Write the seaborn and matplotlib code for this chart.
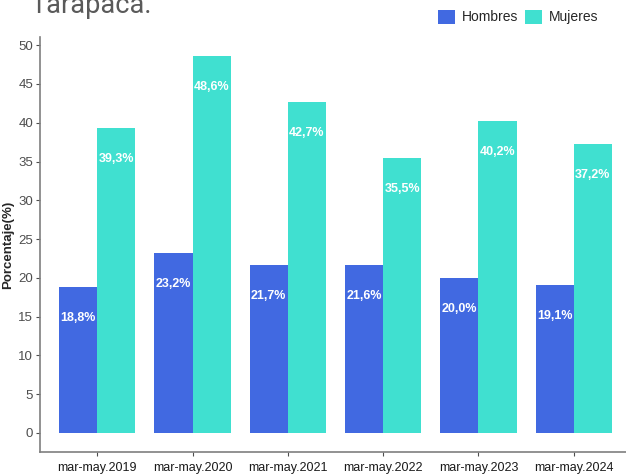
import matplotlib
matplotlib.use("Agg")
import matplotlib.pyplot as plt
import seaborn as sns
import pandas as pd
from matplotlib.patches import Patch

periodos = ["mar-may.2019", "mar-may.2020", "mar-may.2021", "mar-may.2022", "mar-may.2023", "mar-may.2024"]
hombres = [18.8, 23.2, 21.7, 21.6, 20.0, 19.1]
mujeres = [39.3, 48.6, 42.7, 35.5, 40.2, 37.2]
sexos = ["Hombres", "Mujeres"]
colores = ["#4169E1", "#40E0D0"]
yticks = [0, 5, 10, 15, 20, 25, 30, 35, 40, 45, 50]

df = pd.DataFrame({
    "periodo": periodos * 2,
    "valor": hombres + mujeres,
    "sexo": [sexos[0]] * len(periodos) + [sexos[1]] * len(periodos),
})

sns.set_style("white")
plt.rcParams["font.family"] = ["Liberation Sans", "DejaVu Sans"]

fig = plt.figure(figsize=(6.26, 4.75), dpi=100)
ax = fig.add_axes([40 / 626, 23 / 475, 591 / 626, 415 / 475])

sns.barplot(data=df, x="periodo", y="valor", hue="sexo", palette=colores,
            width=0.8, dodge=True, ax=ax, legend=False, saturation=1,
            edgecolor="none", linewidth=0)

for cont in ax.containers:
    for bar in cont:
        h = bar.get_height()
        ax.text(bar.get_x() + bar.get_width() / 2, h - 4.0,
                f"{h:.1f}%".replace(".", ","), ha="center", va="center",
                color="white", fontsize=9, fontweight="bold")

ax.set_xlim(-0.6, len(periodos) - 1 + 0.6)
ax.set_ylim(-2.45, 51.05)
ax.set_yticks(yticks)
ax.set_yticklabels([str(v) for v in yticks], fontsize=9.5, color="#4d4d4d")
ax.tick_params(axis="x", labelsize=9, labelcolor="#1a1a1a", pad=4)
ax.tick_params(axis="both", length=3, color="#4d4d4d", direction="out", width=0.8)
ax.tick_params(axis="x", bottom=True)
ax.tick_params(axis="y", left=True, pad=2)
ax.set_xlabel("")
ax.set_ylabel("Porcentaje(%)", fontsize=9.5, fontweight="bold", labelpad=3)
for s in ["top", "right"]:
    ax.spines[s].set_visible(False)
for s in ["left", "bottom"]:
    ax.spines[s].set_color("#7f7f7f")
    ax.spines[s].set_linewidth(1.2)

handles = [Patch(facecolor=c, edgecolor="none", label=l) for c, l in zip(colores, sexos)]
fig.legend(handles=handles, loc="center", bbox_to_anchor=(518 / 626, 1 - 17 / 475),
           ncol=2, frameon=False, handlelength=1.2, handleheight=1.2,
           handletextpad=0.5, columnspacing=0.5,
           prop={"size": 10})

fig.text(30 / 626, 1 - 13 / 475, "Tarapacá.", fontsize=19.5, color="#5a5a5a",
         family=["Roboto", "DejaVu Sans"], ha="left", va="baseline")

fig.savefig("out.png", dpi=100)
